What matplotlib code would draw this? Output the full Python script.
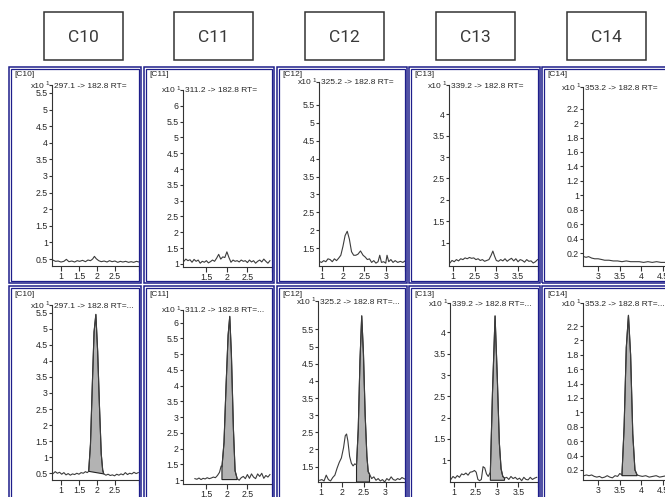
import numpy as np
import matplotlib
matplotlib.use('Agg')
import matplotlib.pyplot as plt
from matplotlib.patches import Rectangle

W, H = 665, 497

compounds = ['C10', 'C11', 'C12', 'C13', 'C14']
transitions = ['297.1 -> 182.8', '311.2 -> 182.8', '325.2 -> 182.8',
               '339.2 -> 182.8', '353.2 -> 182.8']

# ---- top row traces (no peak) ----
c10_top_x = [0.77, 0.85, 0.92, 1.0, 1.08, 1.15, 1.22, 1.3, 1.38, 1.45, 1.52, 1.6, 1.68, 1.75, 1.82, 1.88, 1.93,
             1.98, 2.05, 2.12, 2.2, 2.28, 2.35, 2.42, 2.5, 2.58, 2.65, 2.72, 2.8, 2.88, 2.95, 3.02, 3.1, 3.17]
c10_top_y = [0.47, 0.43, 0.44, 0.41, 0.43, 0.49, 0.42, 0.44, 0.41, 0.45, 0.43, 0.46, 0.42, 0.47, 0.45, 0.5, 0.58,
             0.51, 0.45, 0.42, 0.44, 0.41, 0.45, 0.42, 0.44, 0.4, 0.43, 0.41, 0.43, 0.4, 0.42, 0.4, 0.43, 0.41]

c11_top_x = [0.95, 1.0, 1.05, 1.1, 1.15, 1.2, 1.25, 1.3, 1.35, 1.4, 1.45, 1.5, 1.55, 1.6, 1.65, 1.7, 1.75, 1.8,
             1.85, 1.9, 1.95, 2.0, 2.05, 2.1, 2.15, 2.2, 2.25, 2.3, 2.35, 2.4, 2.45, 2.5, 2.55, 2.6, 2.65, 2.7,
             2.75, 2.8, 2.85, 2.9, 2.95, 3.0, 3.05]
c11_top_y = [1.08, 1.15, 1.1, 1.13, 1.05, 1.14, 1.08, 1.12, 1.02, 1.08, 1.05, 1.1, 1.03, 1.07, 1.12, 1.08, 1.18, 1.3,
             1.15, 1.22, 1.2, 1.38, 1.2, 1.05, 1.12, 1.08, 1.1, 1.06, 1.12, 1.08, 1.1, 1.04, 1.12, 1.06, 1.1, 1.02,
             1.08, 1.12, 1.06, 1.15, 1.08, 1.02, 1.1]

c12_top_x = [1.46, 1.5, 1.55, 1.6, 1.65, 1.7, 1.75, 1.8, 1.85, 1.9, 1.95, 2.0, 2.05, 2.1, 2.15, 2.2, 2.25, 2.3,
             2.35, 2.41, 2.47, 2.52, 2.57, 2.62, 2.67, 2.72, 2.77, 2.82, 2.86, 2.9, 2.95, 3.0, 3.03, 3.07, 3.12,
             3.17, 3.22, 3.28, 3.34, 3.4, 3.45]
c12_top_y = [1.12, 1.1, 1.15, 1.12, 1.2, 1.18, 1.12, 1.2, 1.15, 1.22, 1.3, 1.55, 1.85, 1.97, 1.75, 1.4, 1.3, 1.3,
             1.33, 1.42, 1.3, 1.25, 1.18, 1.2, 1.1, 1.15, 1.08, 1.12, 1.3, 1.1, 1.12, 1.08, 1.3, 1.12, 1.18,
             1.1, 1.15, 1.1, 1.13, 1.1, 1.14]

c13_top_x = [1.93, 1.98, 2.03, 2.08, 2.13, 2.18, 2.23, 2.28, 2.33, 2.38, 2.43, 2.48, 2.53, 2.58, 2.63, 2.68, 2.73,
             2.78, 2.83, 2.88, 2.92, 2.96, 3.0, 3.05, 3.1, 3.15, 3.2, 3.25, 3.3, 3.35, 3.4, 3.45, 3.5, 3.55, 3.6,
             3.65, 3.7, 3.75, 3.8, 3.85, 3.9, 3.95]
c13_top_y = [0.52, 0.58, 0.55, 0.6, 0.57, 0.62, 0.6, 0.64, 0.62, 0.65, 0.63, 0.64, 0.6, 0.62, 0.58, 0.6, 0.56,
             0.58, 0.6, 0.7, 0.8, 0.68, 0.58, 0.56, 0.6, 0.57, 0.62, 0.56, 0.6, 0.63, 0.57, 0.62, 0.55, 0.6, 0.58,
             0.54, 0.6, 0.56, 0.57, 0.52, 0.55, 0.6]

c14_top_x = [2.67, 2.72, 2.78, 2.85, 2.92, 3.0, 3.08, 3.15, 3.25, 3.35, 3.45, 3.55, 3.65, 3.75, 3.85, 3.95, 4.05,
             4.15, 4.25, 4.35, 4.45, 4.55, 4.65]
c14_top_y = [0.15, 0.14, 0.15, 0.13, 0.12, 0.12, 0.11, 0.1, 0.1, 0.09, 0.09, 0.08, 0.09, 0.08, 0.08, 0.08, 0.07,
             0.08, 0.07, 0.08, 0.07, 0.07, 0.08]

# ---- bottom row traces (with integrated peak) ----
c10_bot_x = [0.77, 0.84, 0.9, 0.96, 1.02, 1.08, 1.14, 1.2, 1.26, 1.32, 1.38, 1.44, 1.5, 1.56, 1.62, 1.68, 1.73,
             1.77, 1.82, 1.87, 1.92, 1.97, 2.02, 2.07, 2.12, 2.16, 2.19, 2.25, 2.31, 2.37, 2.43, 2.49, 2.55, 2.61,
             2.67, 2.73, 2.79, 2.85, 2.91, 2.97, 3.03, 3.09, 3.15]
c10_bot_y = [0.48, 0.55, 0.5, 0.53, 0.47, 0.52, 0.45, 0.49, 0.44, 0.48, 0.46, 0.5, 0.47, 0.52, 0.5, 0.55, 0.52,
             0.56, 1.4, 3.2, 4.9, 5.45, 4.3, 2.6, 1.1, 0.6, 0.48, 0.44, 0.47, 0.43, 0.45, 0.42, 0.47, 0.44,
             0.48, 0.45, 0.52, 0.46, 0.5, 0.48, 0.53, 0.49, 0.52]

c11_bot_x = [1.22, 1.27, 1.32, 1.37, 1.42, 1.47, 1.52, 1.57, 1.62, 1.67, 1.72, 1.77, 1.82, 1.86, 1.88, 1.93, 1.98,
             2.03, 2.07, 2.11, 2.16, 2.2, 2.25, 2.3, 2.35, 2.4, 2.45, 2.5, 2.55, 2.6, 2.65, 2.7, 2.75, 2.8, 2.85,
             2.9, 2.95, 3.0, 3.05]
c11_bot_y = [1.05, 1.03, 1.07, 1.02, 1.06, 1.04, 1.08, 1.05, 1.07, 1.1, 1.08, 1.15, 1.25, 1.45, 1.42, 2.2, 4.0,
             5.6, 6.2, 5.0, 2.6, 1.3, 1.05, 1.0, 1.08, 1.12, 1.05, 1.18, 1.06, 1.2, 1.1, 1.05, 1.2, 1.12, 1.22,
             1.06, 1.15, 1.1, 1.18]

c12_bot_x = [1.48, 1.53, 1.58, 1.63, 1.68, 1.73, 1.78, 1.83, 1.88, 1.93, 1.98, 2.03, 2.07, 2.1, 2.13, 2.17, 2.21,
             2.25, 2.29, 2.33, 2.37, 2.41, 2.45, 2.49, 2.53, 2.57, 2.6, 2.63, 2.68, 2.73, 2.78, 2.83, 2.88, 2.93,
             2.98, 3.03, 3.08, 3.13, 3.18, 3.23, 3.28, 3.33, 3.38, 3.44]
c12_bot_y = [1.1, 1.12, 1.08, 1.25, 1.12, 1.08, 1.18, 1.25, 1.45, 1.62, 1.75, 2.05, 2.4, 2.45, 2.25, 1.8, 1.6,
             1.52, 1.58, 1.55, 2.6, 4.6, 5.9, 4.8, 3.0, 1.8, 1.35, 1.28, 1.15, 1.2, 1.1, 1.15, 1.08, 1.12,
             1.05, 1.15, 1.1, 1.2, 1.12, 1.1, 1.15, 1.12, 1.18, 1.14]

c13_bot_x = [1.93, 1.98, 2.03, 2.08, 2.13, 2.18, 2.23, 2.28, 2.33, 2.38, 2.43, 2.48, 2.52, 2.56, 2.6, 2.64, 2.68,
             2.72, 2.76, 2.8, 2.85, 2.9, 2.96, 3.01, 3.06, 3.1, 3.14, 3.18, 3.23, 3.28, 3.33, 3.38, 3.43, 3.48,
             3.53, 3.58, 3.63, 3.68, 3.73, 3.78, 3.83, 3.88, 3.93]
c13_bot_y = [0.55, 0.62, 0.58, 0.64, 0.6, 0.68, 0.66, 0.7, 0.65, 0.72, 0.73, 0.76, 0.72, 0.55, 0.52, 0.55, 0.85,
             0.82, 0.68, 0.62, 0.72, 2.6, 4.39, 3.0, 1.4, 0.8, 0.62, 0.58, 0.6, 0.55, 0.62, 0.57, 0.6, 0.55,
             0.58, 0.52, 0.6, 0.55, 0.54, 0.6, 0.55, 0.58, 0.6]

c14_bot_x = [2.67, 2.73, 2.79, 2.85, 2.91, 2.97, 3.03, 3.09, 3.15, 3.21, 3.27, 3.33, 3.39, 3.45, 3.5, 3.55, 3.6,
             3.65, 3.7, 3.75, 3.8, 3.85, 3.9, 3.95, 4.02, 4.1, 4.18, 4.26, 4.34, 4.42, 4.5, 4.58, 4.65]
c14_bot_y = [0.12, 0.13, 0.12, 0.13, 0.11, 0.1, 0.11, 0.09, 0.1, 0.12, 0.1, 0.09, 0.12, 0.11, 0.15, 0.13, 0.8,
             1.9, 2.35, 1.8, 0.7, 0.2, 0.13, 0.12, 0.11, 0.12, 0.1, 0.11, 0.12, 0.1, 0.11, 0.12, 0.11]

# integrated peak: (start rt, end rt, baseline at start, baseline at end)
peaks = [(1.77, 2.19, 0.56, 0.48),
         (1.88, 2.25, 1.02, 1.02),
         (2.33, 2.63, 1.05, 1.05),
         (2.85, 3.18, 0.53, 0.53),
         (3.55, 3.90, 0.12, 0.12)]

top_x = [c10_top_x, c11_top_x, c12_top_x, c13_top_x, c14_top_x]
top_y = [c10_top_y, c11_top_y, c12_top_y, c13_top_y, c14_top_y]
bot_x = [c10_bot_x, c11_bot_x, c12_bot_x, c13_bot_x, c14_bot_x]
bot_y = [c10_bot_y, c11_bot_y, c12_bot_y, c13_bot_y, c14_bot_y]

# axis ticks
yticks = [[0.5, 1, 1.5, 2, 2.5, 3, 3.5, 4, 4.5, 5, 5.5],
          [1, 1.5, 2, 2.5, 3, 3.5, 4, 4.5, 5, 5.5, 6],
          [1.5, 2, 2.5, 3, 3.5, 4, 4.5, 5, 5.5],
          [1, 1.5, 2, 2.5, 3, 3.5, 4],
          [0.2, 0.4, 0.6, 0.8, 1, 1.2, 1.4, 1.6, 1.8, 2, 2.2]]
xticks = [[1, 1.5, 2, 2.5], [1.5, 2, 2.5], [1.5, 2, 2.5, 3], [2, 2.5, 3, 3.5], [3, 3.5, 4, 4.5]]
xticklabels = [['1', '1.5', '2', '2.5'], ['1.5', '2', '2.5'], ['1', '2', '2.5', '3'],
               ['1', '2.5', '3', '3.5'], ['3', '3.5', '4', '4.5']]

# layout in pixels
panel_cols = [(9, 141), (144, 274), (277, 407), (409, 540), (542, 668)]
panel_rows = [(67, 283), (286, 506)]
header_boxes = [(44, 123), (174, 253), (305, 384), (436, 515), (567, 646)]
ax_top = [(52, 85, 139, 266), (183, 90, 272, 267), (319, 82, 405, 266), (449, 85, 538, 266), (583, 87, 670, 266)]
ax_bot = [(52, 305, 139, 480), (183, 310, 272, 484), (318, 301, 405, 482), (450, 303, 538, 482), (583, 303, 670, 480)]
ylim_top = [(0.29, 5.74), (0.9, 6.5), (1.0, 6.14), (0.45, 4.69), (0.02, 2.5)]
ylim_bot = [(0.29, 5.74), (0.88, 6.4), (1.05, 6.33), (0.49, 4.69), (0.06, 2.52)]
xlims = [(0.75, 3.17), (0.93, 3.1), (1.44, 3.45), (1.91, 3.96), (2.65, 4.66)]

navy = '#1e1e8a'
txt = '#262626'
tickfont = 'Liberation Sans'

fig = plt.figure(figsize=(W / 100, H / 100), dpi=100)
fig.patch.set_facecolor('white')


def fr(x0, y0, x1, y1):
    return [x0 / W, 1 - y1 / H, (x1 - x0) / W, (y1 - y0) / H]


def ftext(x, y, s, **kw):
    fig.text(x / W, 1 - y / H, s, **kw)


for i, name in enumerate(compounds):
    # header box
    hx0, hx1 = header_boxes[i]
    fig.add_artist(Rectangle((hx0 / W, 1 - 60 / H), (hx1 - hx0) / W, 48 / H,
                             transform=fig.transFigure, fill=False, edgecolor='#333333', lw=1.1))
    ftext((hx0 + hx1) / 2, 37, name, ha='center', va='center', fontsize=12.5,
          family='Roboto', color='#3a3a3a')

    px0, px1 = panel_cols[i]
    for r, (py0, py1) in enumerate(panel_rows):
        fig.add_artist(Rectangle((px0 / W, 1 - py1 / H), (px1 - px0) / W, (py1 - py0) / H,
                                 transform=fig.transFigure, fill=False, edgecolor=navy, lw=1.1))
        fig.add_artist(Rectangle(((px0 + 2) / W, 1 - (py1 - 2) / H), (px1 - px0 - 4) / W, (py1 - py0 - 4) / H,
                                 transform=fig.transFigure, fill=False, edgecolor=navy, lw=0.9))

        box = ax_top[i] if r == 0 else ax_bot[i]
        ax = fig.add_axes(fr(*box))
        ax.patch.set_visible(False)
        if r == 0:
            ax.plot(top_x[i], top_y[i], color='#3c3c3c', lw=0.8)
            ax.set_ylim(*ylim_top[i])
        else:
            x = np.array(bot_x[i])
            y = np.array(bot_y[i])
            a, b, b0, b1 = peaks[i]
            m = (x >= a - 1e-9) & (x <= b + 1e-9)
            ax.fill(np.r_[x[m], x[m][-1], x[m][0]], np.r_[y[m], b1, b0],
                    facecolor='#b3b3b3', edgecolor='#222222', lw=0.8)
            ax.plot(x, y, color='#3c3c3c', lw=0.8)
            ax.set_ylim(*ylim_bot[i])
        ax.set_xlim(*xlims[i])
        for s in ['top', 'right']:
            ax.spines[s].set_visible(False)
        for s in ['left', 'bottom']:
            ax.spines[s].set_color('#333333')
            ax.spines[s].set_linewidth(0.8)
        ax.set_yticks(yticks[i])
        ax.set_yticklabels(['%g' % v for v in yticks[i]])
        ax.set_xticks(xticks[i])
        ax.set_xticklabels(xticklabels[i])
        ax.set_yticks([ax.get_ylim()[1]], minor=True)
        ax.set_xticks([ax.get_xlim()[1]], minor=True)
        ax.tick_params(axis='y', which='both', direction='out', length=2.5, width=0.8,
                       pad=0.5, labelsize=6.3, colors='#333333', labelcolor=txt)
        ax.tick_params(axis='x', which='both', direction='out', length=3.5, width=0.8,
                       pad=1, labelsize=6.3, colors='#333333', labelcolor=txt)
        for lab in ax.get_xticklabels() + ax.get_yticklabels():
            lab.set_family(tickfont)

        # panel annotations
        ty = box[1]
        ftext(px0 + 5, py0 + 8, '[%s]' % name, ha='left', va='center', fontsize=6.0,
              family=tickfont, color=txt)
        ftext(box[0] - 7, ty + 1, 'x10', ha='right', va='center', fontsize=6.0,
              family=tickfont, color=txt)
        ftext(box[0] - 6.5, ty - 1.5, '1', ha='left', va='center', fontsize=4.5,
              family=tickfont, color=txt)
        title = transitions[i] + (' RT=' if r == 0 else ' RT=...')
        ftext(box[0] + 2, ty + 1, title, ha='left', va='center', fontsize=6.0,
              family=tickfont, color=txt)

fig.savefig('out.png', dpi=100)
